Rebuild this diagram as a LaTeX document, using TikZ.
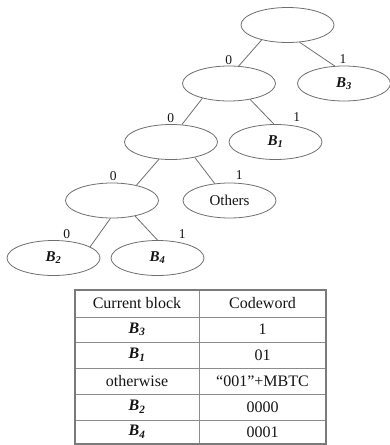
\documentclass[tikz,border=0pt]{standalone}
\usepackage{fontspec}
\setmainfont{Liberation Serif}
\usetikzlibrary{shapes.geometric}
\definecolor{linegray}{HTML}{6E6E6E}
\definecolor{gridgray}{HTML}{8C8C8C}
\definecolor{bordergray}{HTML}{7A7A7A}
\definecolor{textdark}{HTML}{141414}
\newcommand{\Bsub}[1]{\textbf{\textit{B}}\textsubscript{\textbf{\textit{#1}}}}
\begin{document}
\begin{tikzpicture}[x=1pt,y=-1pt,
  treenode/.style={ellipse,draw=linegray,line width=0.8pt,minimum width=93pt,minimum height=35pt,inner sep=0pt,font=\fontsize{15}{18}\selectfont,text=textdark},
  edge/.style={draw=linegray,line width=0.8pt},
  bitlabel/.style={font=\fontsize{13.5}{16}\selectfont,inner sep=0pt,text=textdark},
  cell/.style={font=\fontsize{16}{19}\selectfont,inner sep=0pt,text=textdark},
  gridline/.style={draw=gridgray,line width=0.9pt},
  tableborder/.style={draw=bordergray,line width=1.6pt}
]
\useasboundingbox (0,0) rectangle (390,445);

% tree nodes
\node[treenode] (root) at (287.5,25) {};
\node[treenode] (n2)   at (229,83.5) {};
\node[treenode] (b3)   at (344,83.5) {\Bsub{3}};
\node[treenode] (n3)   at (171,142) {};
\node[treenode] (b1)   at (275.5,142) {\Bsub{1}};
\node[treenode] (n4)   at (112,200.5) {};
\node[treenode] (oth)  at (229.5,200.5) {Others};
\node[treenode] (b2)   at (53.5,258) {\Bsub{2}};
\node[treenode] (b4)   at (157.5,258) {\Bsub{4}};

% edges
\draw[edge] (root.210) -- (n2.61);
\draw[edge] (root.305) -- (b3.118);
\draw[edge] (n2.209) -- (n3.58);
\draw[edge] (n2.323) -- (b1.95);
\draw[edge] (n3.235) -- (n4.32);
\draw[edge] (n3.327) -- (oth.131);
\draw[edge] (n4.265) -- (b2.17);
\draw[edge] (n4.326) -- (b4.90);

% bit labels
\node[bitlabel] (l0a) at (228.7,60) {0};
\node[bitlabel] (l1a) at (343,59.3) {1};
\node[bitlabel] (l0b) at (170.7,118.3) {0};
\node[bitlabel] (l1b) at (296.7,117.3) {1};
\node[bitlabel] (l0c) at (113.3,175.7) {0};
\node[bitlabel] (l1c) at (239.3,175) {1};
\node[bitlabel] (l0d) at (66.7,234.3) {0};
\node[bitlabel] (l1d) at (182.3,234.3) {1};

% table grid
\foreach \yy in {317,342.5,368,394,420} {
  \draw[gridline] (75,\yy) -- (326,\yy);
}
\draw[gridline] (199,290) -- (199,444);
\draw[tableborder] (75,290) rectangle (326,444);

% table cells
\node[cell] (h1) at (137,303.5) {Current block};
\node[cell] (h2) at (262.5,303.5) {Codeword};
\node[cell] (r1a) at (137,329.5) {\Bsub{3}};
\node[cell] (r1b) at (262.5,329.5) {1};
\node[cell] (r2a) at (137,355) {\Bsub{1}};
\node[cell] (r2b) at (262.5,355) {01};
\node[cell] (r3a) at (137,381) {otherwise};
\node[cell] (r3b) at (262.5,381) {“001”+MBTC};
\node[cell] (r4a) at (137,407) {\Bsub{2}};
\node[cell] (r4b) at (262.5,407) {0000};
\node[cell] (r5a) at (137,432) {\Bsub{4}};
\node[cell] (r5b) at (262.5,432) {0001};
\end{tikzpicture}
\end{document}
